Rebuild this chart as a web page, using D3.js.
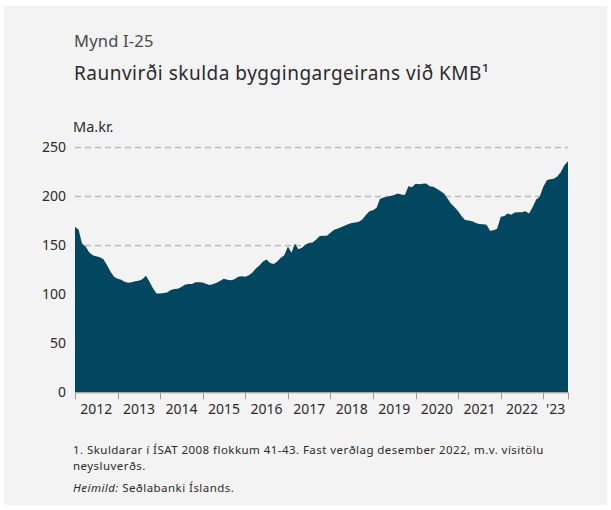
<!DOCTYPE html>
<html>
<head>
<meta charset="utf-8">
<script src="https://cdn.jsdelivr.net/npm/d3@7"></script>
<style>
  html, body { margin: 0; padding: 0; background: #ffffff; }
  svg { display: block; }
  text { font-family: "Noto Sans", "Open Sans", sans-serif; }
</style>
</head>
<body>
<svg id="chart" width="611" height="510"></svg>
<script>
// ---- Data (monthly, Jan 2012 – Aug 2023), Ma.kr. ----
const startYear = 2012;
const startMonth = 0; // January
const values = [
  169, 166, 152, 149, 143, 140, 139, 138, 136, 130, 123, 118,
  116, 115, 113, 112, 112.5, 113.5, 114, 115.5, 119, 113, 106, 101,
  101, 101.5, 102, 104.5, 105.5, 105.7, 107.5, 109.8, 110.5, 110.5, 112.5, 112.5,
  112.2, 110.5, 109.5, 110.5, 112, 114, 116, 115, 114.5, 115.5, 118, 118.5,
  118, 119.5, 122, 126.5, 129.5, 133.5, 135.7, 132, 131, 133.5, 137.5, 140,
  149, 142.5, 152, 146, 147.5, 151, 152.5, 153, 156, 159.5, 160, 160,
  163, 166, 167, 168.5, 170, 171.5, 173, 173.5, 174.1, 176.5, 181, 185,
  186, 188.5, 197.5, 199, 199.6, 200.5, 201.6, 203, 202, 201.5, 210.5, 209.5,
  213, 212.5, 213, 213.3, 210.5, 209.8, 208, 205.5, 203, 198, 192.5, 189,
  185, 179.5, 176, 175.5, 174.8, 173, 172, 171.5, 171, 165, 165.6, 167,
  179.2, 180, 182.7, 181.2, 183.5, 184, 184, 185, 182.7, 189, 197, 199.6,
  209.8, 216.6, 217.5, 218, 220.5, 225, 232, 236
];
const yTicks = [0, 50, 100, 150, 200, 250];
const yearLabels = ["2012","2013","2014","2015","2016","2017","2018","2019","2020","2021","2022","'23"];
const subtitle = "Mynd I-25";
const title = "Raunvirði skulda byggingargeirans við KMB¹";
const unitLabel = "Ma.kr.";
const footnote1 = "1. Skuldarar í ÍSAT 2008 flokkum 41-43. Fast verðlag desember 2022, m.v. vísitölu";
const footnote2 = "neysluverðs.";
const sourceLabel = "Heimild:";
const sourceText = " Seðlabanki Íslands.";

// ---- Build data table ----
const data = values.map((v, i) => ({
  date: new Date(startYear, startMonth + i, 1),
  value: v
}));
const lastDate = data[data.length - 1].date;

// ---- Layout ----
const svg = d3.select("#chart");
const plot = { left: 75, right: 568, top: 147.5, bottom: 392.3 };

svg.append("rect").attr("x", 4).attr("y", 6).attr("width", 603).attr("height", 499)
  .attr("fill", "#f3f3f3");

const x = d3.scaleTime()
  .domain([new Date(2012, 0, 1), lastDate])
  .range([plot.left, plot.right]);
const y = d3.scaleLinear().domain([0, 250]).range([plot.bottom, plot.top]);

// Titles
svg.append("text").attr("x", 74).attr("y", 47).attr("font-size", 16.5)
  .attr("letter-spacing", 0.2)
  .attr("fill", "#4a4a4a").text(subtitle);
svg.append("text").attr("x", 74).attr("y", 80).attr("font-size", 19)
  .attr("letter-spacing", 0.5)
  .attr("fill", "#2b2b2b").text(title);
svg.append("text").attr("x", 73).attr("y", 132).attr("font-size", 14.5)
  .attr("fill", "#2b2b2b").text(unitLabel);

// Gridlines
svg.append("g").selectAll("line").data(yTicks.filter(d => d > 0)).join("line")
  .attr("x1", plot.left).attr("x2", plot.right)
  .attr("y1", d => y(d)).attr("y2", d => y(d))
  .attr("stroke", "#bdbdbd").attr("stroke-width", 1.5)
  .attr("stroke-dasharray", "6,4");

// Area
const area = d3.area()
  .x(d => x(d.date))
  .y0(y(0))
  .y1(d => y(d.value))
  .curve(d3.curveLinear);
svg.append("path").datum(data).attr("d", area).attr("fill", "#02475f");

// Y axis labels
const yAxis = d3.axisLeft(y).tickValues(yTicks).tickSize(0).tickPadding(0);
const gy = svg.append("g").attr("transform", `translate(66,0)`).call(yAxis);
gy.select(".domain").remove();
gy.selectAll("text").attr("font-size", 14).attr("fill", "#2b2b2b")
  .attr("font-family", "'Noto Sans', sans-serif");

// X axis: ticks at year starts + end, labels centered in year intervals
const tickDates = d3.range(2012, 2024).map(yr => new Date(yr, 0, 1)).concat([lastDate]);
const gx = svg.append("g");
gx.append("line").attr("x1", plot.left).attr("x2", plot.right)
  .attr("y1", plot.bottom + 0.5).attr("y2", plot.bottom + 0.5)
  .attr("stroke", "#9a9a9a").attr("stroke-width", 1);
gx.selectAll("line.tick").data(tickDates).join("line").attr("class", "tick")
  .attr("x1", d => Math.round(x(d)) + 0.5).attr("x2", d => Math.round(x(d)) + 0.5)
  .attr("y1", plot.bottom).attr("y2", plot.bottom + 7)
  .attr("stroke", "#9a9a9a").attr("stroke-width", 1);
gx.selectAll("text").data(yearLabels).join("text")
  .attr("x", (d, i) => {
    const a = x(tickDates[i]), b = x(tickDates[i + 1]);
    return (a + b) / 2;
  })
  .attr("y", 413.5).attr("text-anchor", "middle")
  .attr("font-size", 14).attr("fill", "#2b2b2b").text(d => d);

// Footnotes
svg.append("text").attr("x", 73).attr("y", 454).attr("font-size", 11.5)
  .attr("letter-spacing", 0.45)
  .attr("fill", "#2b2b2b").text(footnote1);
svg.append("text").attr("x", 73).attr("y", 470).attr("font-size", 11.5)
  .attr("letter-spacing", 0.45)
  .attr("fill", "#2b2b2b").text(footnote2);
const src = svg.append("text").attr("x", 73).attr("y", 492).attr("font-size", 11.5)
  .attr("letter-spacing", 0.45)
  .attr("fill", "#2b2b2b");
src.append("tspan").attr("font-style", "italic").text(sourceLabel);
src.append("tspan").text(sourceText);
</script>
</body>
</html>
